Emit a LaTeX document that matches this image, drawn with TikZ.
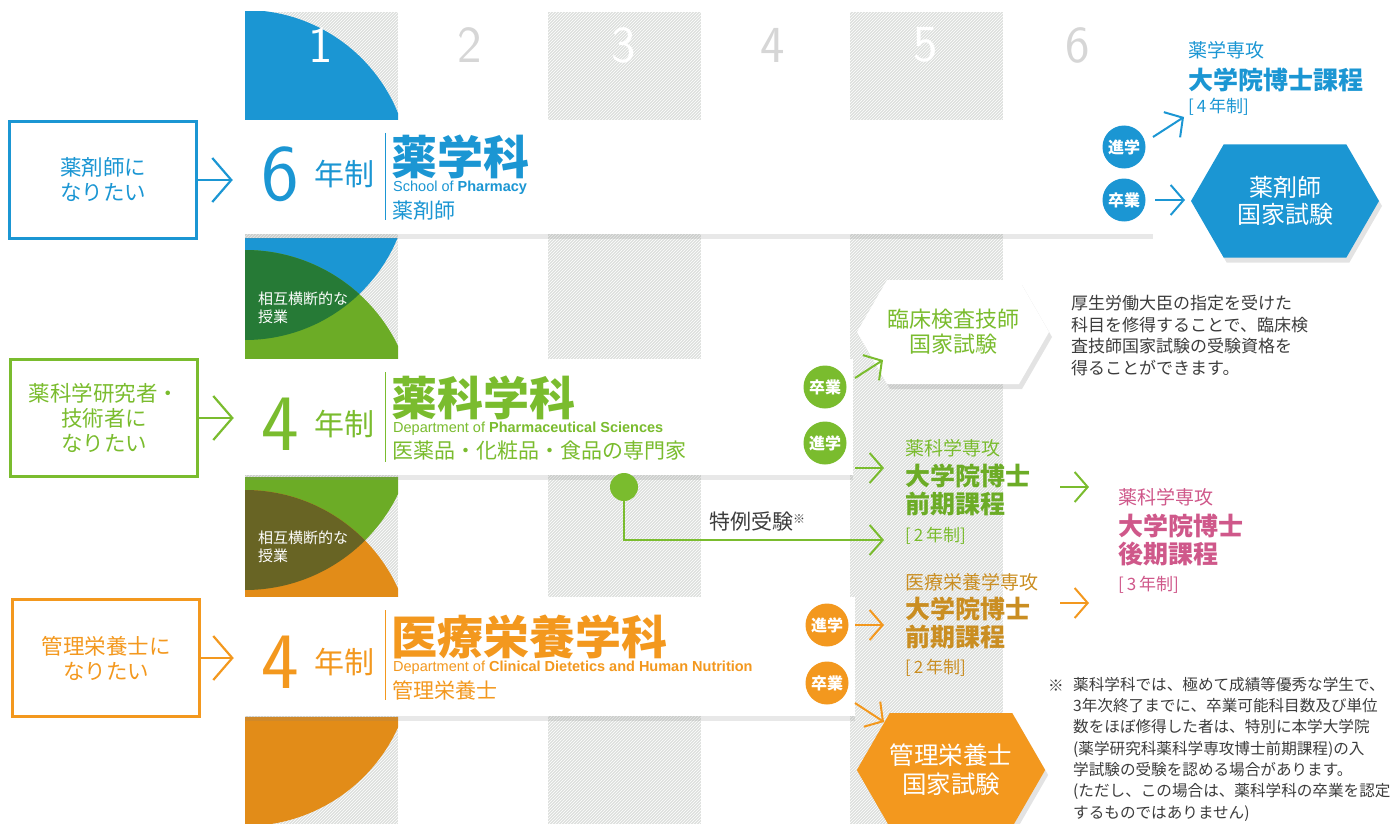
\documentclass[tikz,border=0pt]{standalone}
\usepackage{fontspec}
\setmainfont{Noto Sans CJK JP}
\newfontfamily\enfont{Liberation Sans}
\usepackage{tikz}
\usetikzlibrary{shapes.symbols, arrows.meta, shadows, patterns}
\definecolor{pharmblue}{RGB}{27, 150, 211}
\definecolor{scigreen}{RGB}{122, 188, 46}
\definecolor{scifill}{RGB}{108, 172, 38}
\definecolor{mixgreen}{RGB}{38, 122, 54}
\definecolor{nutriorange}{RGB}{243, 152, 30}
\definecolor{nutrifill}{RGB}{226, 140, 24}
\definecolor{mixolive}{RGB}{104, 100, 36}
\definecolor{docpink}{RGB}{207, 88, 138}
\definecolor{mastgold}{RGB}{202, 142, 34}
\definecolor{colgrey}{RGB}{221, 223, 221}
\definecolor{numgrey}{RGB}{214, 214, 214}
\definecolor{notegrey}{RGB}{60, 60, 60}
\newcommand{\setfs}[2]{\fontsize{#1}{#2}\selectfont}

\begin{document}
\begin{tikzpicture}[x=1pt, y=-1pt,
  arr/.style={-{Straight Barb[length=13pt, width=30pt]}, line width=2pt},
  bigarr/.style={-{Straight Barb[length=19pt, width=44pt]}, line width=2.2pt},
  card/.style={fill=white, inner sep=0pt, anchor=north west,
    drop shadow={opacity=0.18, shadow xshift=0pt, shadow yshift=-5pt}},
  wantbox/.style={draw, line width=2.5pt, minimum width=187pt, minimum height=117pt,
    align=center, font=\setfs{21.5}{25}},
  badge/.style={circle, fill=#1, text=white, minimum size=43pt, inner sep=0pt,
    font=\bfseries\setfs{16}{18}},
  hex/.style={signal, signal to=west and east, signal pointer angle=120, inner sep=0pt,
    align=center, drop shadow={opacity=0.22, shadow xshift=3pt, shadow yshift=-5pt}},
  bignum/.style={font=\sffamily\setfs{80}{80}, inner sep=0pt, anchor=base},
  colnum/.style={font=\sffamily\setfs{52}{52}, inner sep=0pt},
  nen/.style={font=\setfs{30}{30}, inner sep=0pt},
  deptname/.style={font=\bfseries\setfs{46}{46}, inner sep=0pt, anchor=west},
  engname/.style={font=\enfont\setfs{14.5}{15}, inner sep=0pt, anchor=west},
  jobname/.style={font=\setfs{21}{21}, inner sep=0pt, anchor=west},
  subline/.style={font=\setfs{19}{19}, inner sep=0pt, anchor=west},
  mainline/.style={font=\bfseries\setfs{25}{25}, inner sep=0pt, anchor=west},
  yrsline/.style={font=\setfs{17}{17}, inner sep=0pt, anchor=west},
  crossnote/.style={text=white, font=\setfs{15}{17.5}, align=left, anchor=west, inner sep=0pt}]
  \useasboundingbox (0,0) rectangle (1397,824);

  % Year columns
  \foreach \cx in {245, 548, 850} {
    \fill[colgrey] (\cx,12) rectangle ++(153,812);
    \fill[pattern=north east lines, pattern color=white] (\cx,12) rectangle ++(153,812);
  }

  % Quarter circles in the first column
  \begin{scope}
    \clip (245,12) rectangle (398,120);
    \fill[pharmblue] (245,175) circle[radius=165pt];
  \end{scope}
  \begin{scope}
    \clip (245,238) rectangle (398,358);
    \fill[pharmblue] (245,175) circle[radius=165pt];
    \fill[scifill] (245,420) circle[radius=170pt];
    \clip (245,175) circle[radius=165pt];
    \fill[mixgreen] (245,420) circle[radius=170pt];
  \end{scope}
  \begin{scope}
    \clip (245,477) rectangle (398,597);
    \fill[scifill] (245,420) circle[radius=170pt];
    \fill[nutrifill] (245,658) circle[radius=168pt];
    \clip (245,420) circle[radius=170pt];
    \fill[mixolive] (245,658) circle[radius=168pt];
  \end{scope}
  \begin{scope}
    \clip (245,717) rectangle (398,824);
    \fill[nutrifill] (245,658) circle[radius=168pt];
  \end{scope}
  \node[crossnote] (cross1) at (258,308) {相互横断的な\\授業};
  \node[crossnote] (cross2) at (258,547) {相互横断的な\\授業};

  % Year numbers
  \node[colnum, text=white] (y1) at (321,45) {1};
  \node[colnum, text=numgrey] (y2) at (470,45) {2};
  \node[colnum, text=white] (y3) at (624,45) {3};
  \node[colnum, text=numgrey] (y4) at (773,45) {4};
  \node[colnum, text=white] (y5) at (926,45) {5};
  \node[colnum, text=numgrey] (y6) at (1078,45) {6};

  % Cards
  \node[card, minimum width=908pt, minimum height=114pt] (card6) at (245,120) {};
  \node[card, minimum width=608pt, minimum height=116pt] (cardsci) at (245,359) {};
  \node[card, minimum width=610pt, minimum height=119pt] (cardnut) at (245,597) {};

  % School of Pharmacy
  \node[bignum, text=pharmblue] (len6) at (280,200) {6};
  \node[nen, text=pharmblue] (nen6) at (344,174) {年制};
  \draw[pharmblue, line width=0.8pt] (385,133) -- (385,220);
  \node[deptname, text=pharmblue] (dept6) at (391,157) {薬学科};
  \node[engname, text=pharmblue] (eng6) at (393,188) {School of \textbf{Pharmacy}};
  \node[jobname, text=pharmblue] (job6) at (392,211) {薬剤師};
  \node[badge=pharmblue] (go6) at (1124,147) {進学};
  \node[badge=pharmblue] (grad6) at (1124,200) {卒業};

  % Pharmaceutical Sciences
  \node[bignum, text=scigreen] (lensci) at (280,450) {4};
  \node[nen, text=scigreen] (nensci) at (344,424) {年制};
  \draw[scigreen, line width=0.8pt] (385,372) -- (385,462);
  \node[deptname, text=scigreen] (deptsci) at (391,398) {薬科学科};
  \node[engname, text=scigreen] (engsci) at (393,429) {Department of \textbf{Pharmaceutical Sciences}};
  \node[jobname, text=scigreen] (jobsci) at (392,451) {医薬品・化粧品・食品の専門家};
  \node[badge=scigreen] (gradsci) at (825,387) {卒業};
  \node[badge=scigreen] (gosci) at (825,443) {進学};

  % Clinical Dietetics
  \node[bignum, text=nutriorange] (lennut) at (280,688) {4};
  \node[nen, text=nutriorange] (nennut) at (344,662) {年制};
  \draw[nutriorange, line width=0.8pt] (385,610) -- (385,700);
  \node[deptname, text=nutriorange] (deptnut) at (391,637) {医療栄養学科};
  \node[engname, text=nutriorange] (engnut) at (393,668) {Department of \textbf{Clinical Dietetics and Human Nutrition}};
  \node[jobname, text=nutriorange] (jobnut) at (392,690) {管理栄養士};
  \node[badge=nutriorange] (gonut) at (827,625) {進学};
  \node[badge=nutriorange] (gradnut) at (827,683) {卒業};

  % Wishes on the left
  \node[wantbox, draw=pharmblue, text=pharmblue] (want6) at (103,180) {薬剤師に\\なりたい};
  \node[wantbox, draw=scigreen, text=scigreen] (wantsci) at (104,418) {薬科学研究者・\\技術者に\\なりたい};
  \node[wantbox, draw=nutriorange, text=nutriorange] (wantnut) at (106,658) {管理栄養士に\\なりたい};
  \draw[bigarr, pharmblue] (want6.east) -- ++(35,0);
  \draw[bigarr, scigreen] (wantsci.east) -- ++(35,0);
  \draw[bigarr, nutriorange] (wantnut.east) -- ++(33,0);

  % Doctoral course (pharmacy)
  \node[subline, text=pharmblue] (doc6a) at (1188,50) {薬学専攻};
  \node[mainline, text=pharmblue] (doc6b) at (1188,80) {大学院博士課程};
  \node[yrsline, text=pharmblue] (doc6c) at (1188,107) {[\,4\,年制]};
  \node[hex, fill=pharmblue, text=white, minimum width=188pt, minimum height=113pt,
    font=\setfs{24}{27}] (examph) at (1285,201) {薬剤師\\国家試験};
  \coordinate (go6tip) at (1184,117);
  \coordinate (grad6tip) at (1185,200);
  \draw[arr, pharmblue] (go6tip) ++(-31,20) -- (go6tip);
  \draw[arr, pharmblue] (grad6tip) ++(-30,0) -- (grad6tip);

  % Clinical laboratory exam
  \node[hex, fill=white, text=scigreen, minimum width=170pt, minimum height=104pt,
    font=\setfs{22}{25}] (examlab) at (953,332) {臨床検査技師\\国家試験};
  \node[anchor=north west, inner sep=0pt, align=left, text=notegrey,
    font=\setfs{17}{21.5}] (labnote) at (1071,295)
    {厚生労働大臣の指定を受けた\\科目を修得することで、臨床検\\査技師国家試験の受験資格を\\得ることができます。};
  \coordinate (gradscitip) at (883,360);
  \coordinate (goscitip) at (884,468);
  \draw[arr, scigreen] (gradscitip) ++(-28,18) -- (gradscitip);
  \draw[arr, scigreen] (goscitip) ++(-29,0) -- (goscitip);

  % Master course (pharmaceutical sciences)
  \node[subline, text=scigreen] (mastscia) at (905,448) {薬科学専攻};
  \node[mainline, text=scifill] (mastscib) at (905,476) {大学院博士};
  \node[mainline, text=scifill] (mastscic) at (905,504) {前期課程};
  \node[yrsline, text=scigreen] (mastscid) at (905,536) {[\,2\,年制]};

  % Special entrance
  \node[circle, fill=scigreen, minimum size=28pt, inner sep=0pt] (exdot) at (624,487) {};
  \coordinate (extip) at (884,540);
  \draw[arr, scigreen] (exdot) |- (extip);
  \node[anchor=west, inner sep=0pt, text=notegrey, font=\setfs{21}{21}] (exlabel) at (709,521)
    {特例受験{\setfs{12}{12}\raisebox{6pt}{※}}};

  % Master course (nutrition)
  \node[subline, text=mastgold] (mastnuta) at (905,582) {医療栄養学専攻};
  \node[mainline, text=mastgold] (mastnutb) at (905,609) {大学院博士};
  \node[mainline, text=mastgold] (mastnutc) at (905,637) {前期課程};
  \node[yrsline, text=mastgold] (mastnutd) at (905,668) {[\,2\,年制]};
  \coordinate (gonuttip) at (884,625);
  \coordinate (gradnuttip) at (884,722);
  \draw[arr, nutriorange] (gonuttip) ++(-29,0) -- (gonuttip);
  \draw[arr, nutriorange] (gradnuttip) ++(-29,-19) -- (gradnuttip);
  \node[hex, fill=nutriorange, text=white, minimum width=186pt, minimum height=114pt,
    font=\setfs{24.5}{29}] (examnut) at (951,770) {管理栄養士\\国家試験};

  % Doctoral course (pharmaceutical sciences)
  \node[subline, text=docpink] (docscia) at (1118,497) {薬科学専攻};
  \node[mainline, text=docpink] (docscib) at (1118,526) {大学院博士};
  \node[mainline, text=docpink] (docscic) at (1118,554) {後期課程};
  \node[yrsline, text=docpink] (docscid) at (1118,585) {[\,3\,年制]};
  \coordinate (docscitip) at (1089,487);
  \coordinate (docnuttip) at (1089,603);
  \draw[arr, scigreen] (docscitip) ++(-29,0) -- (docscitip);
  \draw[arr, nutriorange] (docnuttip) ++(-29,0) -- (docnuttip);

  % Footnote
  \node[anchor=west, inner sep=0pt, text=notegrey, font=\setfs{15.6}{15.6}] (fnmark) at (1048,686) {※};
  \node[anchor=north west, inner sep=0pt, align=left, text=notegrey,
    font=\setfs{15.6}{21.3}] (fntext) at (1073,677)
    {薬科学科では、極めて成績等優秀な学生で、\\3年次終了までに、卒業可能科目数及び単位\\数をほぼ修得した者は、特別に本学大学院\\(薬学研究科薬科学専攻博士前期課程)の入\\学試験の受験を認める場合があります。\\(ただし、この場合は、薬科学科の卒業を認定\\するものではありません)};
\end{tikzpicture}
\end{document}
